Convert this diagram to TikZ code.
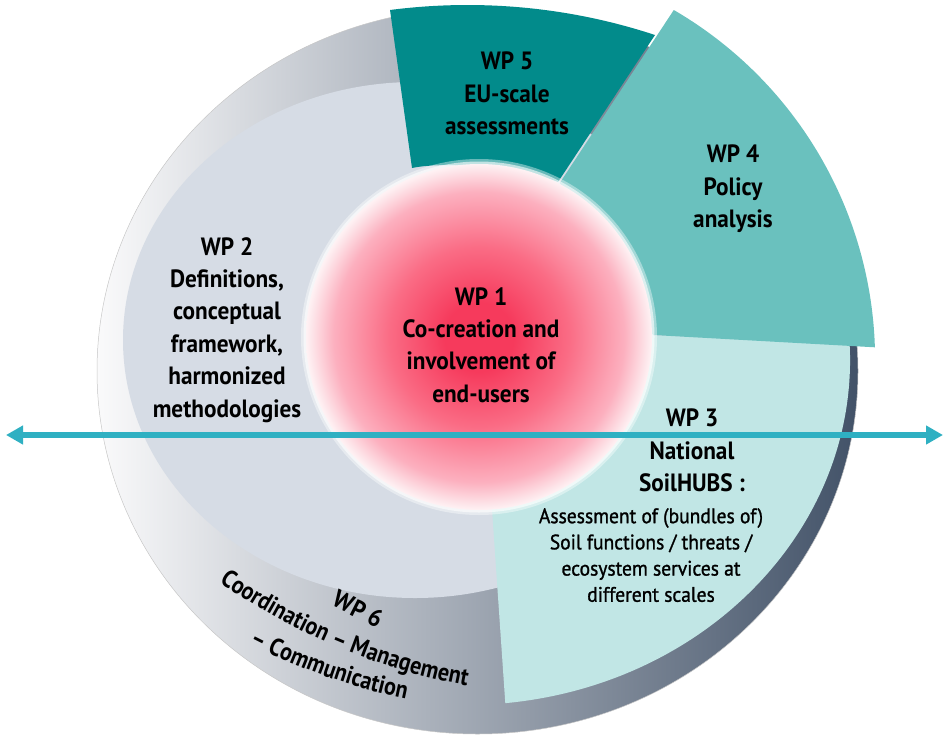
\documentclass[tikz,border=0pt]{standalone}
\usepackage{fontspec}
\setmainfont{PT Sans}[FakeStretch=0.93]
\newfontfamily\descfamily{PT Sans}[FakeStretch=0.93, FakeBold=1.2]
\newfontfamily\ringfamily{PT Sans}[FakeStretch=0.88]
\usetikzlibrary{arrows.meta,decorations.text,calc}

\definecolor{ringL}{RGB}{250,250,251}
\definecolor{ringR}{RGB}{66,82,104}
\definecolor{wptwoc}{RGB}{214,220,229}
\definecolor{wpthreec}{RGB}{193,230,229}
\definecolor{wpfourc}{RGB}{106,193,190}
\definecolor{wpfivec}{RGB}{2,139,139}
\definecolor{arrowc}{RGB}{47,176,194}
\definecolor{pkA}{RGB}{246,58,92}
\definecolor{pkB}{RGB}{250,108,133}
\definecolor{pkC}{RGB}{252,176,191}
\definecolor{pkD}{RGB}{253,226,231}
\definecolor{pkE}{RGB}{254,242,244}

\pgfdeclareradialshading{pinkball}{\pgfpoint{0bp}{0bp}}{color(0bp)=(pkA); color(5bp)=(pkA); color(13bp)=(pkB); color(21bp)=(pkC); color(24bp)=(pkD); color(25bp)=(pkE); color(50bp)=(pkE)}

\newcommand\wpbigfont{\bfseries\fontsize{25}{32.4}\selectfont}
\newcommand\wpsmallfont{\descfamily\fontsize{21}{26.2}\selectfont}
\newcommand\ringfont{\ringfamily\bfseries\fontsize{25}{28}\selectfont}

\tikzset{
  wptext/.style={align=center, font=\wpbigfont, inner sep=0pt, text=black},
  wpdesc/.style={align=center, font=\wpsmallfont, inner sep=0pt, text=black},
  ringtext/.style={decorate, decoration={text along path, text={#1}}}
}

\begin{document}
\begin{tikzpicture}[x=1pt,y=-1pt]
\useasboundingbox (0,0) rectangle (949,736);

% WP6 outer disc
\shade[left color=ringL, right color=ringR, draw=black!22, line width=0.5pt]
  (477.5,371) ellipse [x radius=380.5, y radius=363];

% WP2 inner disc
\fill[wptwoc] (415,340) ellipse [x radius=292, y radius=258];

% WP3 sector
\fill[wpthreec] (600,333) -- (849.6,343.8)
  arc[start angle=-2.7, end angle=84, x radius=385, y radius=345]
  -- (490,480) -- cycle;

% WP5 sector
\fill[wpfivec] (390,10) .. controls (479.2,-1.5) and (569.6,6.9) .. (655,35)
  -- (558,182) .. controls (530,170) and (450,160) .. (412,168) -- cycle;

% WP4 sector
\fill[wpfourc] (673.8,10) arc[start angle=-59.8, end angle=-1.8, radius=405]
  -- (653,335) -- (559.7,183.1) -- cycle;

% WP1 circle with glow
\fill[white, opacity=0.4] (479,337) circle (178);
\fill[white, opacity=0.6] (479,337) circle (175.5);
\shade[shading=pinkball] (479,337) circle (173);

% double arrow
\coordinate (arrL) at (6,435);
\coordinate (arrR) at (943,435);
\draw[arrowc, line width=5.5pt, {Triangle[length=17pt,width=18pt]}-{Triangle[length=17pt,width=18pt]}] (arrL) -- (arrR);

% texts
\node[wptext, anchor=north] (wp2) at (227,237) {WP 2\\Definitions,\\conceptual\\framework,\\harmonized\\methodologies};
\node[wptext, anchor=north] (wp1) at (481,287) {WP 1\\Co-creation and\\involvement of\\end-users};
\node[wptext, anchor=north] (wp5) at (507,52) {WP 5\\EU-scale\\assessments};
\node[wptext, anchor=north] (wp4) at (733,145) {WP 4\\Policy\\analysis};
\node[wptext, anchor=north] (wp3) at (692,409) {WP 3\\National\\SoilHUBS :};
\node[wpdesc, anchor=north] (wp3d) at (651,508) {Assessment of (bundles of)\\Soil functions / threats /\\ecosystem services at\\different scales};
\node[wptext, rotate=-27] (wp6) at (358,609) {WP 6};

\path[ringtext={|\ringfont|Coordination – Management}]
  (219.2,582.1) arc[start angle=125, end angle=92, radius=630];
\path[ringtext={|\ringfont|– Communication}]
  (249,643) arc[start angle=117.5, end angle=97, radius=600];

\end{tikzpicture}
\end{document}
